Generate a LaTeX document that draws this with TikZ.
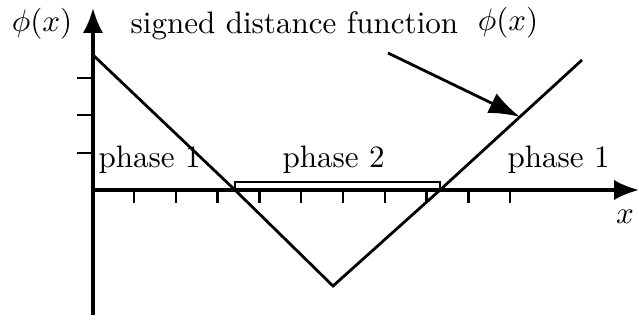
\documentclass[tikz,border=0pt]{standalone}
\usepackage{xcolor}
\usetikzlibrary{arrows.meta, calc}

\begin{document}
\begin{tikzpicture}[x=0.0113cm, y=-0.0113cm, >={Latex[length=8pt, width=6.5pt]}, axis/.style={line width=1.1pt}, tick/.style={line width=0.8pt}, graph/.style={line width=0.9pt}, every node/.style={inner sep=0pt}]
  \useasboundingbox (0,0) rectangle (639,320);
  \coordinate (orig) at (93,190);
  \coordinate (ytop) at (93,8);
  \coordinate (ybot) at (93,315);
  \coordinate (xend) at (639,190);
  \coordinate (p0) at (93,55);
  \coordinate (p1) at (235,190);
  \coordinate (p2) at (333,286);
  \coordinate (p3) at (440,190);
  \coordinate (p4) at (582,60);
  \draw[axis, ->] (ybot) -- (ytop);
  \draw[axis, ->] (orig) -- (xend);
  \foreach \y in {78,115,153} \draw[tick] (77,\y) -- (93,\y);
  \foreach \i in {0,...,9} \draw[tick] ({134+41.8*\i},190) -- ({134+41.8*\i},203);
  \draw[line width=0.7pt] (p1) rectangle ($(p3)+(0,-8)$);
  \draw[graph] (p0) -- (p1) -- (p2) -- (p3) -- (p4);
  \node (ylab) at (42,24) {$\phi(x)$};
  \node (xlab) at (625,217) {$x$};
  \node[anchor=base west] (sdf) at (130,34) {signed distance function};
  \node (sdfsym) at (508,23) {$\phi(x)$};
  \node[anchor=base west] (left) at (98,167) {phase 1};
  \node[anchor=base west] (mid) at (282,167) {phase 2};
  \node[anchor=base west] (right) at (507,167) {phase 1};
  \coordinate (ptr) at (388,53);
  \draw[graph, ->, >={Latex[length=10pt, width=7pt]}] (ptr) -- ($(p3)!0.563!(p4)$);
\end{tikzpicture}
\end{document}
